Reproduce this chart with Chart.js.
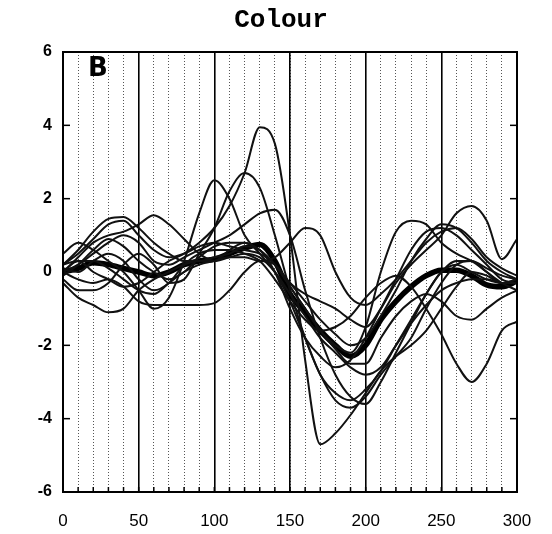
<!DOCTYPE html>
<html><head><meta charset="utf-8">
<script src="https://cdn.jsdelivr.net/npm/chart.js@4.4.1/dist/chart.umd.min.js"></script>
<style>html,body{margin:0;padding:0;background:#fff}#wrap{width:552px;height:534px}</style>
</head><body><div id="wrap"><canvas id="c" width="552" height="534"></canvas></div>
<script>
const xs = [0,10,20,30,40,50,60,70,80,90,100,110,120,130,140,150,160,170,180,190,200,210,220,230,240,250,260,270,280,290,300];
const xTickLabels = ['0','50','100','150','200','250','300'];
const yTickLabels = ['-6','-4','-2','0','2','4','6'];
const meanCurve = [0,0.1,0.25,0.2,0.1,0.0,-0.1,0.0,0.2,0.3,0.35,0.5,0.65,0.75,0.3,-0.6,-1.1,-1.6,-2.0,-2.3,-2.0,-1.3,-0.8,-0.4,-0.1,0.05,0.05,-0.1,-0.35,-0.4,-0.25];
const s1 = [0.2,0.3,0.0,-0.2,-0.4,-0.3,0.0,0.3,0.5,0.8,1.2,1.8,2.7,3.95,3.5,1.0,-2.4,-4.7,-4.4,-3.9,-3.3,-2.7,-2.3,-2.0,-1.6,-1.0,-0.4,0.0,-0.1,-0.3,-0.2];
const s2 = [0.5,0.8,0.6,0.3,0.0,-0.5,-1.0,-0.7,0.3,1.6,2.5,2.0,1.0,0.5,0.0,-0.8,-1.8,-2.8,-3.3,-3.5,-3.2,-2.7,-2.0,-1.3,-0.6,0.0,0.2,0.0,-0.2,-0.3,-0.2];
const s3 = [-0.2,-0.5,-0.5,-0.3,0.2,0.5,0.2,-0.3,-0.2,0.5,1.2,2.2,2.7,2.3,1.0,-0.5,-1.8,-2.8,-3.5,-3.7,-3.4,-2.8,-2.3,-1.8,-1.0,-0.3,0.2,0.3,0.0,-0.3,-0.3];
const s4 = [0.0,0.2,0.5,0.8,1.0,0.8,0.3,0.2,0.4,0.6,0.8,1.0,1.3,1.6,1.7,1.0,-0.5,-1.8,-2.8,-3.4,-3.6,-3.0,-2.2,-1.4,-0.6,0.0,0.3,0.3,0.1,-0.1,-0.2];
const s5 = [0.0,0.3,0.3,0.1,-0.2,-0.5,-0.6,-0.3,0.0,0.2,0.3,0.4,0.4,0.3,0.4,0.8,1.2,1.0,0.0,-0.7,-0.9,-0.6,-0.2,0.3,0.8,1.1,1.2,0.9,0.4,0.1,-0.1];
const s6 = [0.2,0.6,1.1,1.45,1.5,1.2,0.8,0.5,0.3,0.3,0.4,0.5,0.7,0.6,0.0,-1.0,-1.8,-2.3,-2.6,-2.4,-1.8,-1.0,-0.2,0.6,1.1,1.2,1.0,0.6,0.2,-0.2,-0.3];
const s7 = [0.0,0.4,0.8,1.0,1.1,1.3,1.55,1.3,0.9,0.5,0.3,0.6,0.8,0.6,0.2,-0.3,-0.8,-1.3,-1.7,-2.0,-1.8,-1.2,-0.5,0.3,0.9,1.3,1.2,0.8,0.3,0.0,-0.2];
const s8 = [-0.3,-0.7,-0.9,-1.1,-1.0,-0.5,-0.2,0.0,0.2,0.3,0.3,0.4,0.5,0.4,0.0,-0.6,-1.2,-1.8,-2.2,-2.6,-2.8,-2.6,-2.0,-1.4,-0.9,-0.5,-0.3,-0.2,-0.2,-0.3,-0.3];
const s9 = [0.0,-0.2,-0.3,-0.2,-0.4,-0.8,-0.9,-0.9,-0.9,-0.9,-0.85,-0.5,0.0,0.3,0.2,-0.3,-0.6,-0.8,-1.0,-1.3,-1.5,-1.0,-0.3,0.2,0.6,1.0,1.6,1.8,1.4,0.35,0.9];
const s10 = [0.1,0.0,0.3,0.5,0.3,-0.2,-0.5,-0.3,0.2,0.5,0.6,0.6,0.5,0.3,-0.2,-0.8,-1.3,-1.6,-1.5,-1.2,-0.7,-0.3,-0.1,-0.4,-1.0,-1.7,-2.5,-3.0,-2.5,-1.6,-1.35];
const s11 = [-0.1,0.2,0.6,0.9,0.7,0.3,0.0,-0.2,0.0,0.4,0.7,0.8,0.8,0.6,0.2,-0.4,-1.0,-1.6,-2.1,-2.5,-2.5,-1.8,-1.2,-0.8,-0.6,-0.8,-1.2,-1.3,-1.0,-0.7,-0.5];
const s12 = [0.2,0.5,0.9,1.3,1.4,1.0,0.6,0.4,0.5,0.7,0.8,0.7,0.6,0.5,0.2,-0.4,-1.0,-1.6,-2.0,-2.2,-1.5,0.0,1.1,1.4,1.3,0.8,0.5,0.3,0.0,-0.3,-0.5];
const thinSeries = [s1,s2,s3,s4,s5,s6,s7,s8,s9,s10,s11,s12];

const toPts = arr => arr.map((v,i)=>({x:xs[i], y:v}));
const datasets = thinSeries.map(s=>({data:toPts(s), borderColor:'#111', borderWidth:2, pointRadius:0, fill:false, cubicInterpolationMode:'monotone'}));
datasets.push({data:toPts(meanCurve), borderColor:'#000', borderWidth:5.5, pointRadius:0, fill:false, cubicInterpolationMode:'monotone'});

const framePlugin = {
  id:'frame',
  afterDatasetsDraw(chart){
    const {ctx, chartArea:a, scales} = chart;
    ctx.save();
    ctx.strokeStyle='#000'; ctx.lineWidth=2;
    ctx.strokeRect(a.left, a.top, a.right-a.left, a.bottom-a.top);
    ctx.lineWidth=1.5;
    for (let v=10; v<300; v+=10){
      const px = scales.x.getPixelForValue(v);
      ctx.beginPath(); ctx.moveTo(px, a.bottom); ctx.lineTo(px, a.bottom-5); ctx.stroke();
    }
    for (let v=-4; v<=4; v+=2){
      if (v===0) continue;
      const py = scales.y.getPixelForValue(v);
      ctx.beginPath(); ctx.moveTo(a.left, py); ctx.lineTo(a.left+7, py); ctx.stroke();
      ctx.beginPath(); ctx.moveTo(a.right, py); ctx.lineTo(a.right-7, py); ctx.stroke();
    }
    ctx.fillStyle='#000';
    ctx.font='bold 26px "DejaVu Sans"';
    ctx.textBaseline='top'; ctx.textAlign='left';
    ctx.fillText('B', a.left+25, a.top+4);
    ctx.restore();
  }
};

new Chart(document.getElementById('c'), {
  type:'line',
  data:{datasets},
  options:{
    responsive:false, animation:false,
    layout:{padding:{left:10,right:0,top:0,bottom:0}},
    plugins:{
      legend:{display:false}, tooltip:{enabled:false},
      title:{display:true, text:'Colour', color:'#000', font:{family:'Liberation Mono', size:26, weight:'bold'}, padding:{top:5, bottom:15.8}}
    },
    scales:{
      x2:{type:'linear', min:0, max:300, position:'bottom',
        ticks:{stepSize:10, display:false}, grid:{color:'#555', lineWidth:1, drawTicks:false},
        border:{display:false, dash:[1,2]},
        afterFit(s){ s.height=0; }
      },
      x:{type:'linear', min:0, max:300,
        ticks:{stepSize:50, color:'#000', padding:19, font:{family:'Liberation Sans', size:17},
          callback:(v)=> xTickLabels.includes(String(v)) ? String(v) : ''},
        grid:{color:'#000', lineWidth:1.6, drawTicks:false},
        border:{color:'#000', width:2},
        afterFit(s){ s.height=42; }
      },
      y:{min:-6, max:6,
        ticks:{stepSize:2, color:'#000', padding:11, font:{family:'Liberation Sans', size:16, weight:'bold'},
          callback:(v)=> yTickLabels.includes(String(v)) ? String(v) : ''},
        grid:{display:false, drawTicks:false},
        border:{color:'#000', width:2},
        afterFit(s){ s.width=53; }
      },
      yR:{min:-6, max:6, position:'right', display:true,
        ticks:{display:false}, grid:{display:false, drawTicks:false}, border:{display:false},
        afterFit(s){ s.width=35; }
      }
    }
  },
  plugins:[framePlugin]
});
</script>
</body></html>
